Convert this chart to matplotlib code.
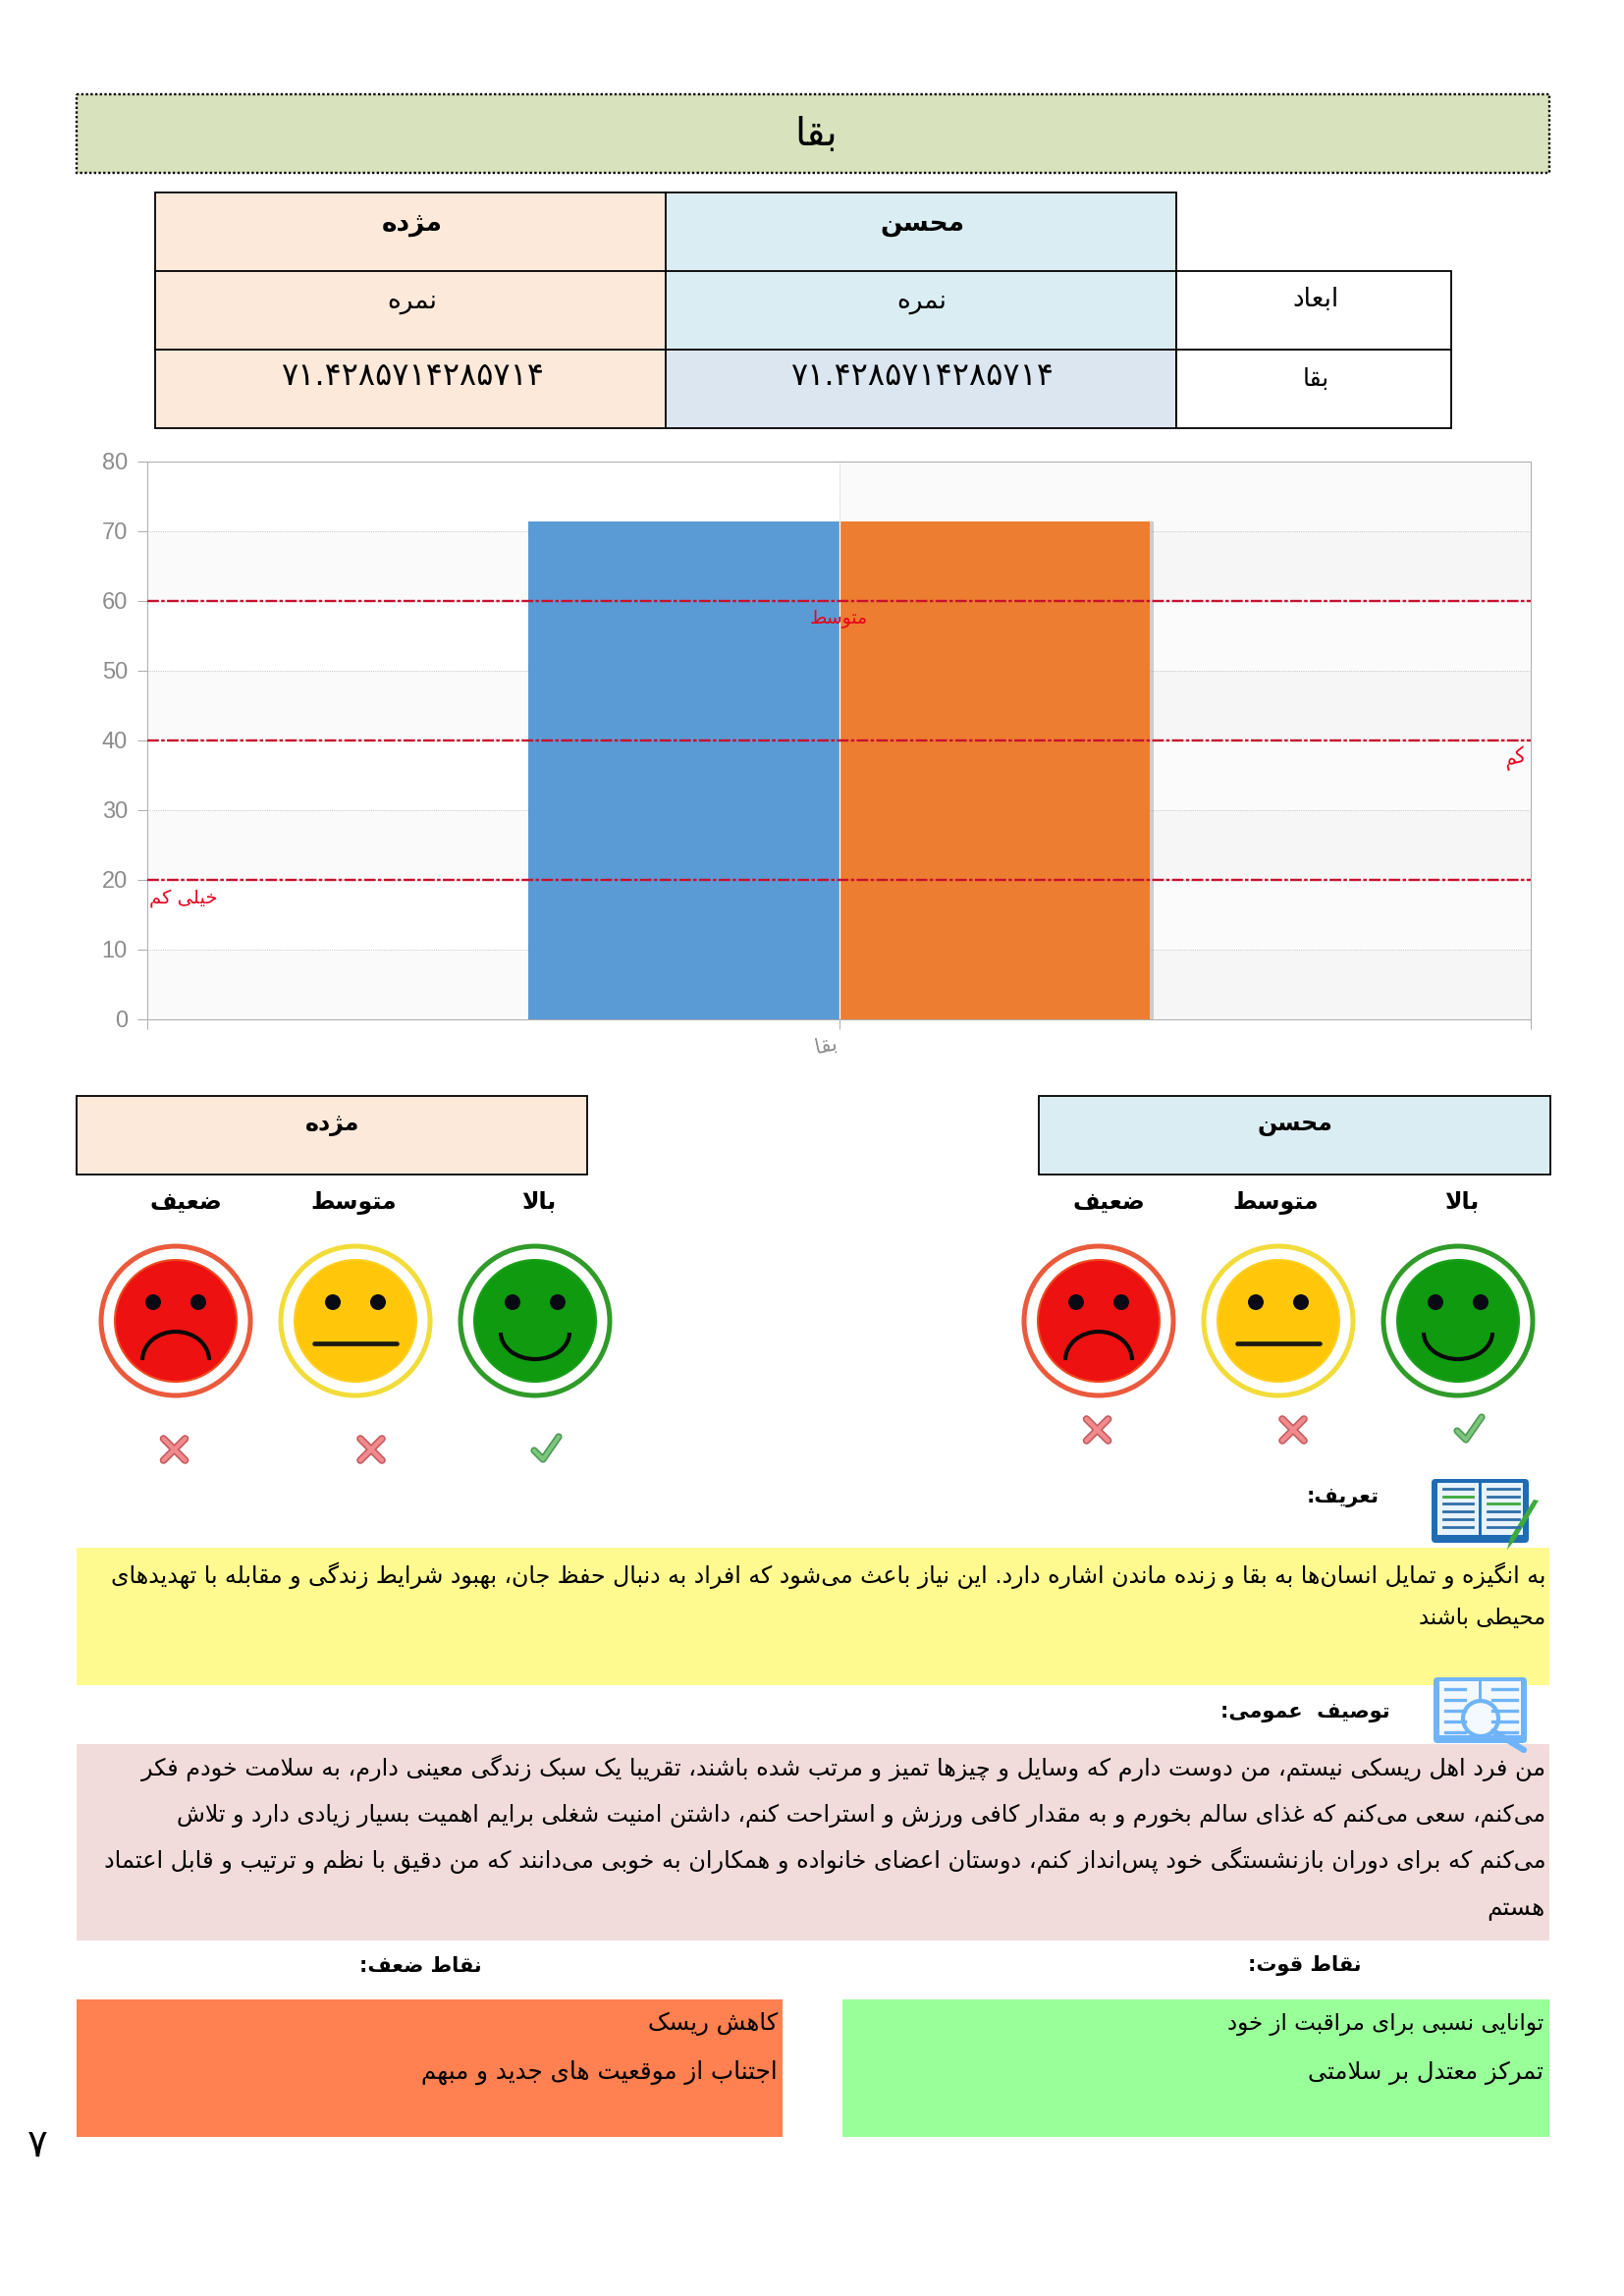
"""Persian report page: score table, bar chart with thresholds, smileys and text boxes."""
import matplotlib
matplotlib.use("Agg")
import matplotlib.pyplot as plt
import matplotlib.patheffects as pe
from matplotlib.patches import Arc, Circle, FancyBboxPatch, Polygon, Rectangle

W, H = 1654, 2338
plt.rcParams["font.family"] = ["DejaVu Sans"]

# --- data -------------------------------------------------------------
PEOPLE = ["محسن", "مژده"]
SCORES = [71.4285714285714, 71.4285714285714]
SCORE_TEXT = "۷۱.۴۲۸۵۷۱۴۲۸۵۷۱۴"
DIMENSION = "بقا"
YTICKS = [0, 10, 20, 30, 40, 50, 60, 70, 80]
THRESHOLDS = [20, 40, 60]
THRESHOLD_LABELS = ["خیلی کم", "کم", "متوسط"]
LEVELS = ["بالا", "متوسط", "ضعیف"]
LEVEL_HIT = [True, False, False]

DEF_LINES = [
    "به انگیزه و تمایل انسان‌ها به بقا و زنده ماندن اشاره دارد. این نیاز باعث می‌شود که افراد به دنبال حفظ جان، بهبود شرایط زندگی و مقابله با تهدیدهای",
    "محیطی باشند",
]
GENERAL_LINES = [
    "من فرد اهل ریسکی نیستم، من دوست دارم که وسایل و چیزها تمیز و مرتب شده باشند، تقریبا یک سبک زندگی معینی دارم، به سلامت خودم فکر",
    "می‌کنم، سعی می‌کنم که غذای سالم بخورم و به مقدار کافی ورزش و استراحت کنم، داشتن امنیت شغلی برایم اهمیت بسیار زیادی دارد و تلاش",
    "می‌کنم که برای دوران بازنشستگی خود پس‌انداز کنم، دوستان اعضای خانواده و همکاران به خوبی می‌دانند که من دقیق با نظم و ترتیب و قابل اعتماد",
    "هستم",
]
STRENGTHS = ["توانایی نسبی برای مراقبت از خود", "تمرکز معتدل بر سلامتی"]
WEAKNESSES = ["کاهش ریسک", "اجتناب از موقعیت های جدید و مبهم"]

# --- arabic shaping: matplotlib has no bidi, so pick presentation forms ----
def _four(start):
    return tuple(chr(start + i) for i in range(4))

def _two(start):
    return (chr(start), chr(start + 1))

FORMS = {
    "آ": _two(0xFE81), "أ": _two(0xFE83), "ؤ": _two(0xFE85), "إ": _two(0xFE87),
    "ا": _two(0xFE8D), "د": _two(0xFEA9), "ذ": _two(0xFEAB), "ر": _two(0xFEAD),
    "ز": _two(0xFEAF), "و": _two(0xFEED), "ژ": _two(0xFB8A),
    "ئ": _four(0xFE89), "ب": _four(0xFE8F), "ت": _four(0xFE95), "ث": _four(0xFE99),
    "ج": _four(0xFE9D), "ح": _four(0xFEA1), "خ": _four(0xFEA5), "س": _four(0xFEB1),
    "ش": _four(0xFEB5), "ص": _four(0xFEB9), "ض": _four(0xFEBD), "ط": _four(0xFEC1),
    "ظ": _four(0xFEC5), "ع": _four(0xFEC9), "غ": _four(0xFECD), "ف": _four(0xFED1),
    "ق": _four(0xFED5), "ل": _four(0xFEDD), "م": _four(0xFEE1), "ن": _four(0xFEE5),
    "ه": _four(0xFEE9), "ی": _four(0xFBFC), "ک": _four(0xFB8E), "گ": _four(0xFB92),
    "پ": _four(0xFB56), "چ": _four(0xFB7A),
}
DIGITS = "۰۱۲۳۴۵۶۷۸۹"


def shape(text):
    out = []
    prev_joins = False
    i = 0
    while i < len(text):
        c = text[i]
        nxt = text[i + 1] if i + 1 < len(text) else ""
        if c == "ل" and nxt == "ا":
            out.append("\ufefc" if prev_joins else "\ufefb")
            prev_joins = False
            i += 2
            continue
        if c in FORMS:
            forms = FORMS[c]
            next_joins = len(forms) == 4 and nxt in FORMS
            if prev_joins and next_joins:
                out.append(forms[3])
            elif prev_joins:
                out.append(forms[1])
            elif next_joins:
                out.append(forms[2])
            else:
                out.append(forms[0])
            prev_joins = len(forms) == 4
        else:
            prev_joins = False
            if c != "\u200c":
                out.append(c)
        i += 1
    # visual order, number runs stay left to right
    result, run = [], []
    for c in reversed(out):
        if c in DIGITS or c == ".":
            run.append(c)
        else:
            if run:
                result.extend(reversed(run))
                run = []
            result.append(c)
    result.extend(reversed(run))
    return "".join(result)


# --- page -------------------------------------------------------------
fig = plt.figure(figsize=(W / 100, H / 100), dpi=100, facecolor="white")
page = fig.add_axes([0, 0, 1, 1], zorder=2)
page.set_xlim(0, W)
page.set_ylim(H, 0)
page.axis("off")
page.patch.set_alpha(0)
renderer = fig.canvas.get_renderer()


def box(x0, y0, x1, y1, fc, ec="none", lw=0, ls="-"):
    page.add_patch(Rectangle((x0, y0), x1 - x0, y1 - y0, facecolor=fc, edgecolor=ec, linewidth=lw, linestyle=ls))


def label(x, y, s, size=15, weight="normal", ha="center", va="center", color="black", width=None):
    t = page.text(x, y, shape(s), fontsize=size, fontweight=weight, ha=ha, va=va, color=color)
    if width is not None:
        # hinting makes the width non linear in the size, so fit a few times
        for _ in range(3):
            t.set_fontsize(t.get_fontsize() * width / t.get_window_extent(renderer).width)
    return t


box(78, 96, 1578, 176, "#D8E2BC", "black", 1.7, (0, (1, 1)))
label(831, 137, DIMENSION, size=29)

# table
TABLE_X = [157.5, 678, 1198, 1478]
TABLE_Y = [196, 276, 356, 436]
PEACH, SKY, STEEL = "#FCE9DA", "#DAEDF3", "#DCE6F1"
for (x0, x1, fc, fc_last) in [(TABLE_X[0], TABLE_X[1], PEACH, PEACH), (TABLE_X[1], TABLE_X[2], SKY, STEEL)]:
    box(x0, TABLE_Y[0], x1, TABLE_Y[2], fc, "black", 1.3)
    box(x0, TABLE_Y[1], x1, TABLE_Y[2], fc, "black", 1.3)
    box(x0, TABLE_Y[2], x1, TABLE_Y[3], fc_last, "black", 1.3)
box(TABLE_X[2], TABLE_Y[1], TABLE_X[3], TABLE_Y[2], "white", "black", 1.3)
box(TABLE_X[2], TABLE_Y[2], TABLE_X[3], TABLE_Y[3], "white", "black", 1.3)
label(939, 228, PEOPLE[0], size=19, weight="bold")
label(420, 228, PEOPLE[1], size=19, weight="bold")
label(939, 307, "نمره", size=19)
label(420, 307, "نمره", size=19)
label(1340, 305, "ابعاد", size=19)
label(939, 384, SCORE_TEXT, size=23)
label(420, 384, SCORE_TEXT, size=23)
label(1340, 386, DIMENSION, size=18)

# --- chart ------------------------------------------------------------
ax = fig.add_axes([150 / W, 1 - 1037.6 / H, 1409 / W, 567.6 / H], zorder=1)
GRAY = "#ABABAB"
for lo, hi in zip(YTICKS[:-1], YTICKS[1:]):
    odd = (lo // 10) % 2 == 0
    ax.axhspan(lo, hi, xmin=0, xmax=0.5, color="#FAFAFA" if odd else "white", lw=0, zorder=0)
    ax.axhspan(lo, hi, xmin=0.5, xmax=1, color="#F6F6F6" if odd else "#FBFBFB", lw=0, zorder=0)
ax.axhspan(70, 80, xmin=0, xmax=0.5, color="white", lw=0, zorder=0)
ax.axhspan(70, 80, xmin=0.5, xmax=1, color="#FAFAFA", lw=0, zorder=0)
ax.set_xlim(-0.5, 0.5)
ax.set_ylim(0, 80)
ax.set_yticks(YTICKS)
ax.set_yticklabels([str(v) for v in YTICKS], family="Liberation Sans", fontsize=17, color="#8C8C8C")
ax.set_xticks([-0.5, 0, 0.5])
ax.set_xticklabels(["", shape(DIMENSION), ""], fontsize=15, color="#8C8C8C", ha="right", rotation=12)
ax.tick_params(axis="both", length=7.5, width=0.7, color=GRAY, pad=3)
ax.tick_params(axis="y", pad=7)
for spine in ax.spines.values():
    spine.set_color(GRAY)
    spine.set_linewidth(0.7)
ax.grid(axis="y", color="#B5B5B5", linestyle=":", linewidth=0.6, zorder=1)
ax.axvline(0, color="#B5B5B5", linestyle=":", linewidth=0.6, zorder=1)
bar_w = 0.2246
bars = ax.bar([-bar_w / 2, bar_w / 2], SCORES, width=bar_w, color=["#5B9BD5", "#ED7D31"], zorder=2)
bars[1].set_path_effects([pe.SimplePatchShadow(offset=(3, 0), shadow_rgbFace="#B0B0B0", alpha=0.6), pe.Normal()])
ax.axvline(0, ymax=SCORES[0] / 80, color="white", linewidth=0.9, zorder=3)
for v in THRESHOLDS:
    ax.axhline(v, color="#C8102E", linestyle=(0, (5, 1, 1.5, 1)), linewidth=1.7, zorder=4)
ax.text(-0.474, 17.3, shape(THRESHOLD_LABELS[0]), color="#E8001C", fontsize=14, ha="center", va="center", zorder=5)
ax.text(0.4886, 37.4, shape(THRESHOLD_LABELS[1]), color="#E8001C", fontsize=15, ha="center", va="center", rotation=15, zorder=5)
ax.text(0, 57.5, shape(THRESHOLD_LABELS[2]), color="#E8001C", fontsize=13.5, ha="center", va="center", zorder=5)


# --- smileys ----------------------------------------------------------
def face(cx, cy, kind):
    ring, fill, edge = {
        "good": ("#2F9B28", "#0F9A0F", "#1BA01B"),
        "mid": ("#F2DC3A", "#FFC60A", "#FFCF20"),
        "bad": ("#EA5A3C", "#EE1111", "#F04A20"),
    }[kind]
    page.add_patch(Circle((cx, cy), 76, facecolor="white", edgecolor=ring, linewidth=3.6))
    page.add_patch(Circle((cx, cy), 62, facecolor=fill, edgecolor=edge, linewidth=1.5))
    for dx in (-23, 23):
        page.add_patch(Circle((cx + dx, cy - 19), 8, facecolor="#0A0A14", edgecolor="none"))
    if kind == "good":
        page.add_patch(Arc((cx, cy + 12), 70, 54, theta1=0, theta2=180, color="#0A0A0A", linewidth=3))
    elif kind == "mid":
        page.plot([cx - 42, cx + 42], [cy + 23, cy + 23], color="#1A1A10", linewidth=3.4, solid_capstyle="round")
    else:
        page.add_patch(Arc((cx, cy + 40), 68, 58, theta1=180, theta2=360, color="#0A0A0A", linewidth=3))


def cross(cx, cy):
    for width, color in ((5.5, "#C65A5E"), (3.2, "#F08A8C")):
        for sx in (-1, 1):
            page.plot([cx - 11 * sx, cx + 11 * sx], [cy - 11, cy + 11], color=color, linewidth=width, solid_capstyle="round")


def check(cx, cy):
    xs, ys = [cx - 12, cx - 3, cx + 13], [cy + 1, cy + 10, cy - 13]
    page.plot(xs, ys, color="#4E9A52", linewidth=5.2, solid_capstyle="round", solid_joinstyle="round")
    page.plot(xs, ys, color="#7CC67E", linewidth=2.8, solid_capstyle="round", solid_joinstyle="round")


PANELS = [
    (PEOPLE[0], SKY, 1057.5, 1579, 1318.5, [1489, 1299, 1129], [1485, 1302, 1119], [1496, 1317, 1117.6], 1456),
    (PEOPLE[1], PEACH, 77.6, 598, 339, [549, 360, 189], [545, 362, 179], [556, 378, 177.5], 1476),
]
KINDS = ["good", "mid", "bad"]
for name, fc, x0, x1, xc, label_x, face_x, mark_x, mark_y in PANELS:
    box(x0, 1116, x1, 1196, fc, "black", 1.3)
    label(xc, 1145, name, size=17, weight="bold")
    for lvl, lx, fx, mx, kind, hit in zip(LEVELS, label_x, face_x, mark_x, KINDS, LEVEL_HIT):
        label(lx, 1224, lvl, size=17, weight="bold")
        face(fx, 1345, kind)
        (check if hit else cross)(mx, mark_y)

# --- text boxes -------------------------------------------------------
RIGHT = 1574
label(1368, 1525, "تعریف:", size=15, weight="bold")
box(78, 1576, 1578, 1716, "#FEFA90")
for s, y, left in zip(DEF_LINES, [1612, 1654], [110, 1445]):
    label(RIGHT, y, s, size=14, ha="right", va="baseline", width=RIGHT - left)

label(1329, 1744, "توصیف  عمومی:", size=15, weight="bold")
box(78, 1776, 1578, 1976, "#F2DCDB")
for s, y, left in zip(GENERAL_LINES, [1808, 1855, 1902, 1950], [145, 181, 105, 1515]):
    label(RIGHT, y, s, size=14, ha="right", va="baseline", width=RIGHT - left)

label(428, 2002, "نقاط ضعف:", size=15, weight="bold")
label(1329, 2002, "نقاط قوت:", size=15, weight="bold")
box(78, 2036, 797, 2176, "#FF8050")
box(858, 2036, 1578, 2176, "#99FF99")
for s, y, left in zip(WEAKNESSES, [2067, 2117], [660, 431]):
    label(792, y, s, size=14, ha="right", va="baseline", width=792 - left)
for s, y, left in zip(STRENGTHS, [2067, 2117], [1249, 1332]):
    label(1572, y, s, size=14, ha="right", va="baseline", width=1572 - left)

label(38, 2185, "۷", size=28)


# --- icons, on top of the boxes ---------------------------------------
def book(x0, y0, x1, y1, dark, light):
    page.add_patch(FancyBboxPatch((x0, y0), x1 - x0, y1 - y0, boxstyle="round,pad=0,rounding_size=4", facecolor=dark, edgecolor="none"))
    xm = (x0 + x1) / 2
    box(x0 + 6, y0 + 4, xm - 1.5, y1 - 8, light)
    box(xm + 1.5, y0 + 4, x1 - 6, y1 - 8, light)


book(1458, 1506, 1557, 1571, "#1F6CB5", "#E8F3FB")
for k in range(6):
    y = 1516 + k * 7.7
    page.plot([1470, 1500], [y, y], color="#3DAA3D" if k == 1 else "#2F6FA8", linewidth=2)
    page.plot([1515, 1547], [y, y], color="#3DAA3D" if k == 2 else "#2F6FA8", linewidth=2)
page.add_patch(Polygon([[1562, 1527], [1567, 1528], [1543, 1568], [1535, 1578], [1538, 1566]], facecolor="#3DAA3D", edgecolor="none"))

book(1460, 1708, 1555, 1775, "#6FB4F8", "#F4F9FF")
for k in range(5):
    y = 1720 + k * 11
    page.plot([1472, 1492], [y, y], color="#6FB4F8", linewidth=2.4)
    page.plot([1520, 1545], [y, y], color="#6FB4F8", linewidth=2.4)
page.add_patch(Circle((1508, 1750), 18, facecolor="#F4F9FF", edgecolor="#6FB4F8", linewidth=3))
page.plot([1521, 1552], [1763, 1782], color="#6FB4F8", linewidth=4.5, solid_capstyle="round")

fig.savefig("out.png", dpi=100)
